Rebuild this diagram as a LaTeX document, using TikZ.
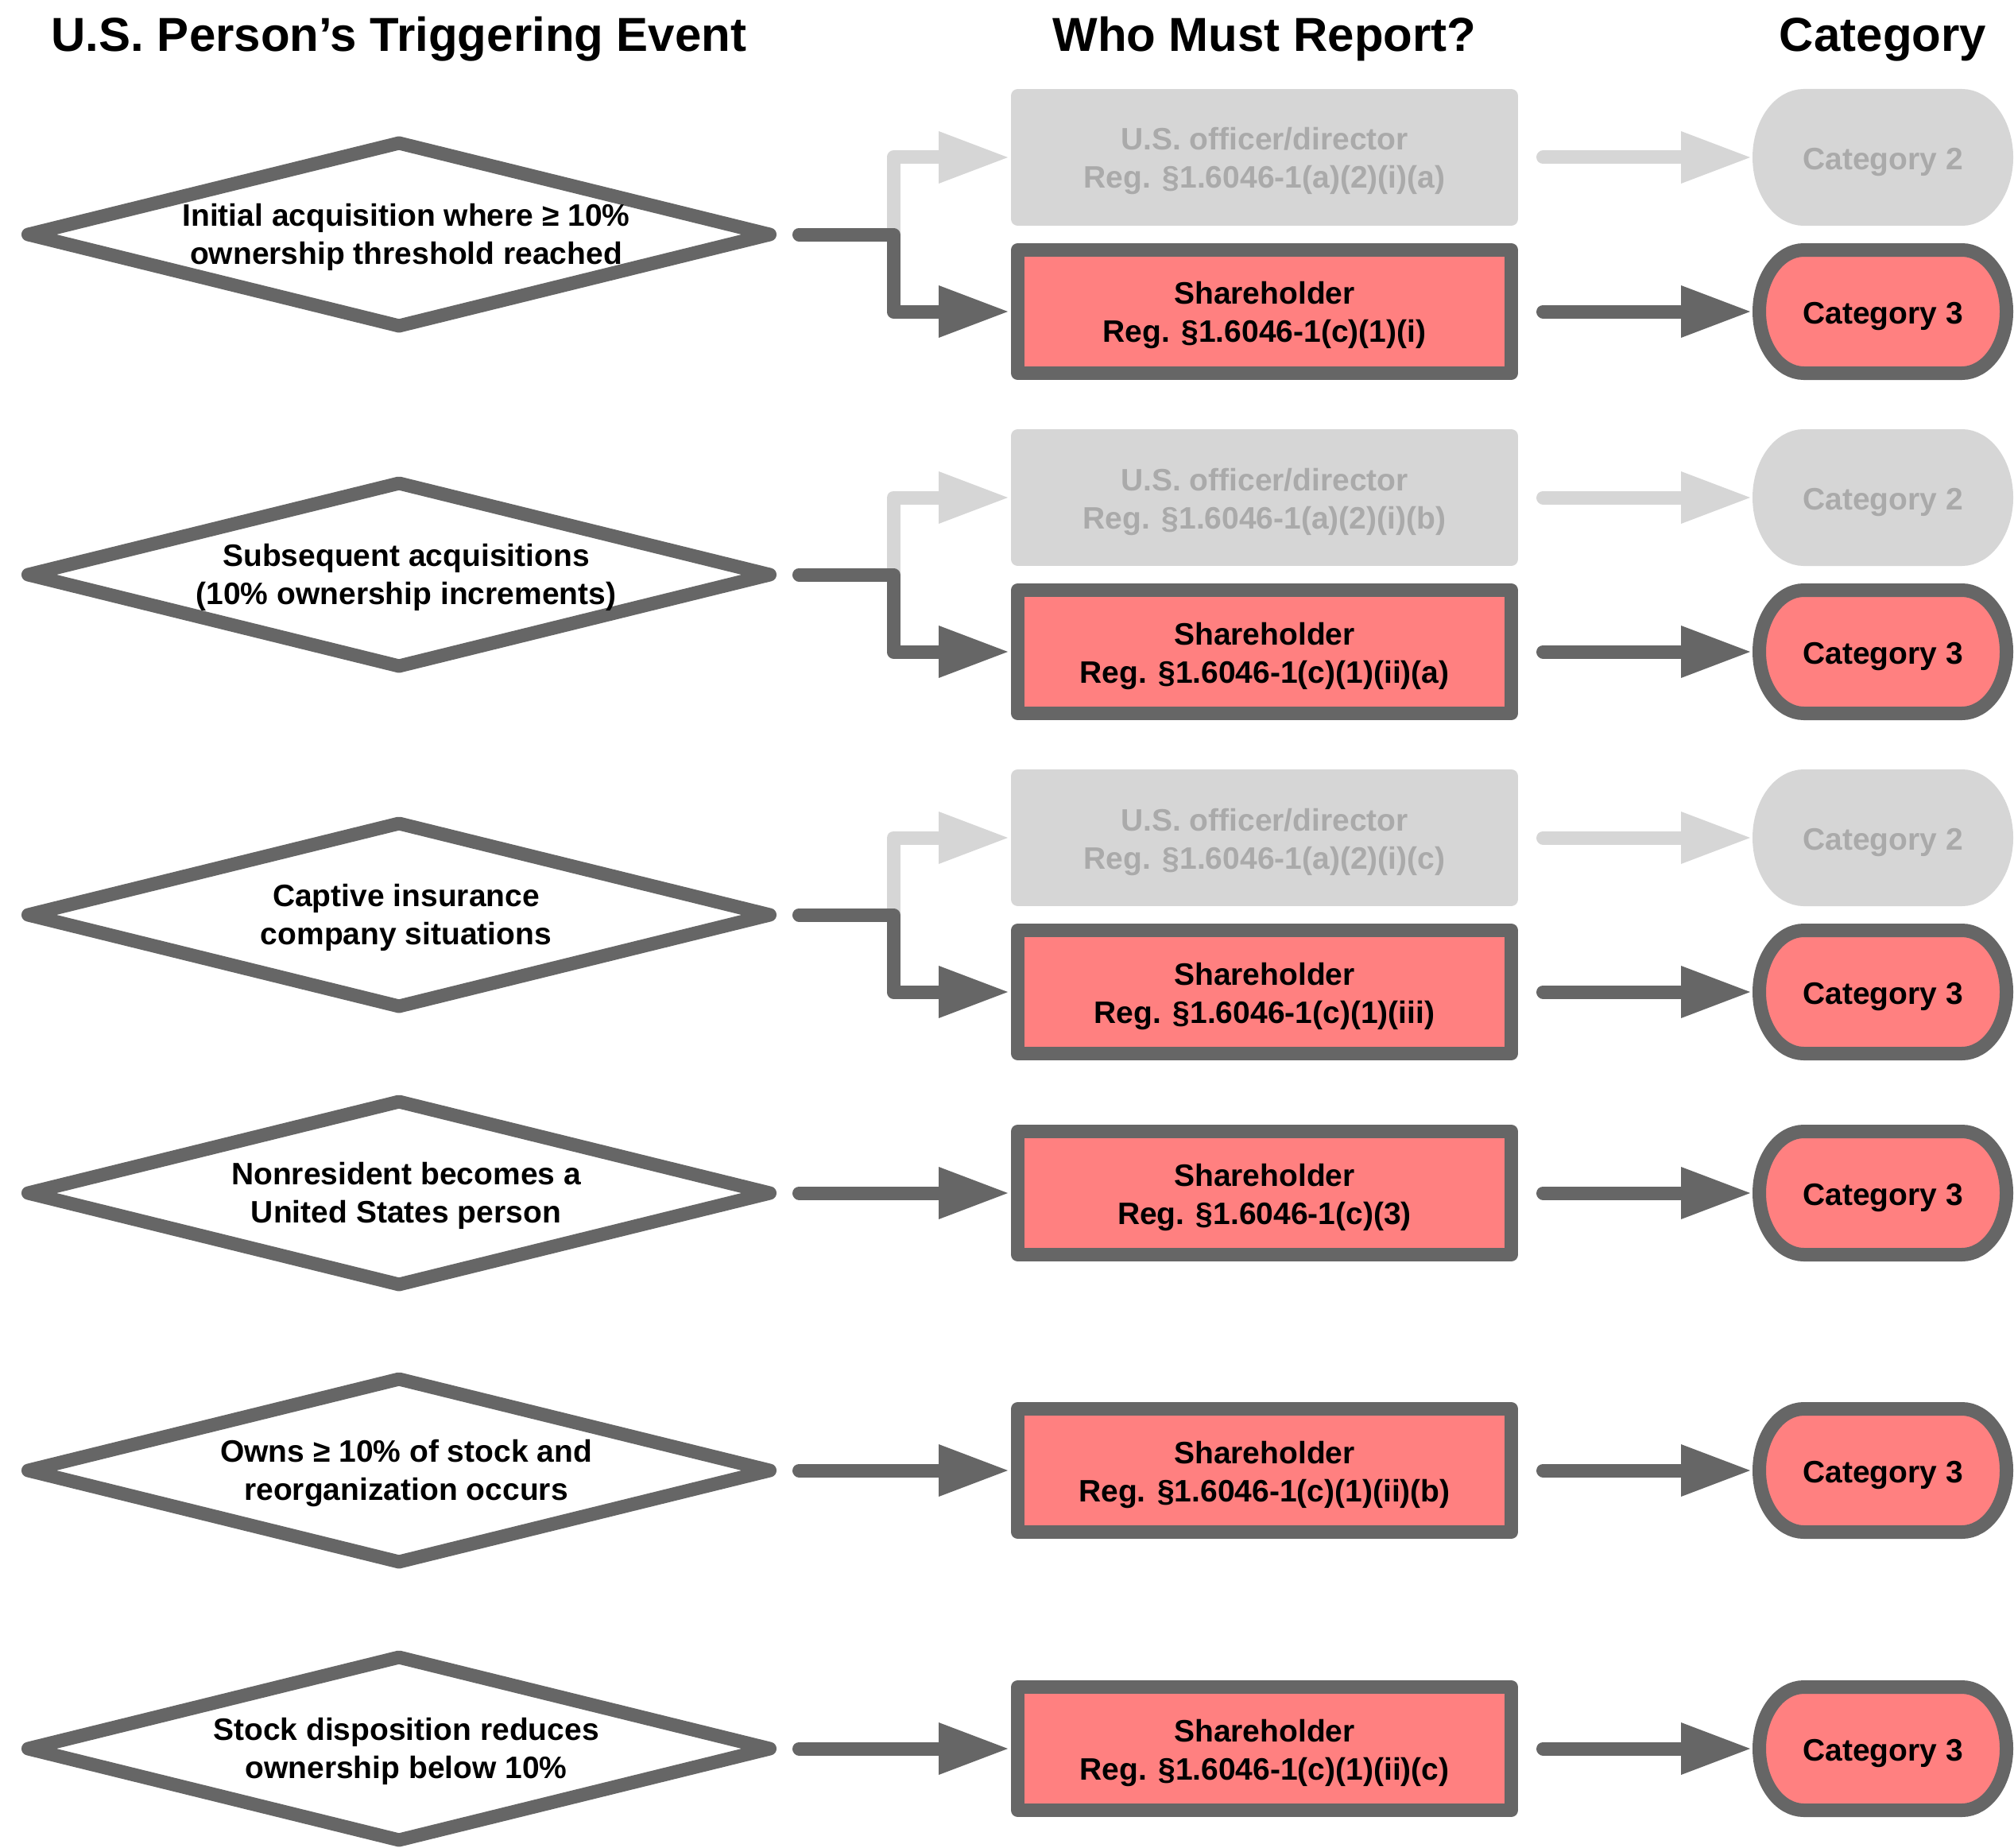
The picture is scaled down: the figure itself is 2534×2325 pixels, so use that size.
\documentclass[tikz,border=0pt]{standalone}
\usepackage{fontspec}
\setmainfont{Liberation Sans}
\usetikzlibrary{arrows.meta,shapes.geometric,calc}

\definecolor{edgegray}{HTML}{666666}
\definecolor{fadegray}{HTML}{D6D6D6}
\definecolor{fadetext}{HTML}{AAAAAA}
\definecolor{hitred}{HTML}{FF8080}

\pgfdeclarelayer{background}
\pgfsetlayers{background,main}

% pill outline with elliptical ends, drawn behind a category node
\newcommand{\catoutline}[2]{%
  \begin{pgfonlayer}{background}
    \path[#2] ([xshift=56pt]#1.north west) -- ([xshift=-56pt]#1.north east)
      arc[start angle=90,end angle=-90,x radius=56pt,y radius=77.5pt]
      -- ([xshift=56pt]#1.south west)
      arc[start angle=270,end angle=90,x radius=56pt,y radius=77.5pt] -- cycle;
  \end{pgfonlayer}}

\begin{document}
\begin{tikzpicture}[x=1pt,y=1pt,
  every node/.style={outer sep=0pt, inner sep=0pt},
  txt/.style={font=\bfseries\fontsize{39}{48}\selectfont, align=center},
  head/.style={font=\bfseries\fontsize{60}{72}\selectfont, anchor=base},
  % box and category captions sit a little below the geometric centre
  say/.style={label={[txt,yshift=-5pt]center:{#1}}},
  fadesay/.style={label={[txt,text=fadetext,yshift=-5pt]center:{#1}}},
  catsay/.style={label={[txt,yshift=-6pt]center:{#1}}},
  catfadesay/.style={label={[txt,text=fadetext,yshift=-6pt]center:{#1}}},
  event/.style={diamond, draw=edgegray, fill=white, line width=17pt, line join=round,
    minimum width=933pt, minimum height=230pt},
  rolebox/.style={rectangle, line width=17pt, line join=round,
    minimum width=621pt, minimum height=155pt},
  holder/.style={rolebox, draw=edgegray, fill=hitred, say={#1}},
  officer/.style={rolebox, draw=fadegray, fill=fadegray, fadesay={#1}},
  cat/.style={minimum width=311pt, minimum height=155pt, catsay={#1}},
  catoff/.style={minimum width=311pt, minimum height=155pt, catfadesay={#1}},
  catdark/.style={draw=edgegray, fill=hitred, line width=17pt},
  catfade/.style={draw=fadegray, fill=fadegray, line width=17pt},
  link/.style={line width=17pt, line cap=round, line join=round,
    -{Triangle[length=87pt,width=66pt,line width=0pt]}, shorten >=12.5pt},
  strong/.style={link, color=edgegray},
  faint/.style={link, color=fadegray},
]
\useasboundingbox (0,0) rectangle (2534,-2325);

% column headings
\node[head] (h1) at (502,-65) {U.S. Person’s Triggering Event};
\node[head] (h2) at (1591,-65) {Who Must Report?};
\node[head] (h3) at (2369,-65) {Category};

% triggering events
\node[event] (d1) at (502,-295) {};
\node[event] (d2) at (502,-723) {};
\node[event] (d3) at (502,-1151) {};
\node[event] (d4) at (502,-1501) {};
\node[event] (d5) at (502,-1850) {};
\node[event] (d6) at (502,-2200) {};
\node[txt] (t1) at ([xshift=9pt,yshift=-3pt]d1.center) {Initial acquisition where ≥ 10\%\\ownership threshold reached};
\node[txt] (t2) at ([xshift=9pt,yshift=-3pt]d2.center) {Subsequent acquisitions\\(10\% ownership increments)};
\node[txt] (t3) at ([xshift=9pt,yshift=-3pt]d3.center) {Captive insurance\\company situations};
\node[txt] (t4) at ([xshift=9pt,yshift=-3pt]d4.center) {Nonresident becomes a\\United States person};
\node[txt] (t5) at ([xshift=9pt,yshift=-3pt]d5.center) {Owns ≥ 10\% of stock and\\reorganization occurs};
\node[txt] (t6) at ([xshift=9pt,yshift=-3pt]d6.center) {Stock disposition reduces\\ownership below 10\%};

% who must report
\node[officer={U.S. officer/director\\Reg. §1.6046-1(a)(2)(i)(a)}] (g1) at (1591,-198) {};
\node[holder={Shareholder\\Reg. §1.6046-1(c)(1)(i)}] (s1) at (1591,-392) {};
\node[officer={U.S. officer/director\\Reg. §1.6046-1(a)(2)(i)(b)}] (g2) at (1591,-626) {};
\node[holder={Shareholder\\Reg. §1.6046-1(c)(1)(ii)(a)}] (s2) at (1591,-820) {};
\node[officer={U.S. officer/director\\Reg. §1.6046-1(a)(2)(i)(c)}] (g3) at (1591,-1054) {};
\node[holder={Shareholder\\Reg. §1.6046-1(c)(1)(iii)}] (s3) at (1591,-1248) {};
\node[holder={Shareholder\\Reg. §1.6046-1(c)(3)}] (s4) at (1591,-1501) {};
\node[holder={Shareholder\\Reg. §1.6046-1(c)(1)(ii)(b)}] (s5) at (1591,-1850) {};
\node[holder={Shareholder\\Reg. §1.6046-1(c)(1)(ii)(c)}] (s6) at (1591,-2200) {};

% categories
\node[catoff={Category 2}] (c1) at (2369,-198) {};
\node[cat={Category 3}] (k1) at (2369,-392) {};
\node[catoff={Category 2}] (c2) at (2369,-626) {};
\node[cat={Category 3}] (k2) at (2369,-820) {};
\node[catoff={Category 2}] (c3) at (2369,-1054) {};
\node[cat={Category 3}] (k3) at (2369,-1248) {};
\node[cat={Category 3}] (k4) at (2369,-1501) {};
\node[cat={Category 3}] (k5) at (2369,-1850) {};
\node[cat={Category 3}] (k6) at (2369,-2200) {};
\catoutline{c1}{catfade}
\catoutline{c2}{catfade}
\catoutline{c3}{catfade}
\catoutline{k1}{catdark}
\catoutline{k2}{catdark}
\catoutline{k3}{catdark}
\catoutline{k4}{catdark}
\catoutline{k5}{catdark}
\catoutline{k6}{catdark}

% event -> reporter (faded branch first, so the active branch lies on top)
\foreach \i in {1,2,3} {
  \draw[faint] ([xshift=37pt]d\i.east) -- ++(118.5,0) |- (g\i.west);
  \draw[strong] ([xshift=37pt]d\i.east) -- ++(118.5,0) |- (s\i.west);
}
\foreach \i in {4,5,6} {
  \draw[strong] ([xshift=37pt]d\i.east) -- (s\i.west);
}

% reporter -> category
\foreach \i in {1,2,3} {
  \draw[faint, shorten >=11.5pt] ([xshift=40pt]g\i.east) -- (c\i.west);
}
\foreach \i in {1,...,6} {
  \draw[strong, shorten >=11.5pt] ([xshift=40pt]s\i.east) -- (k\i.west);
}
\end{tikzpicture}
\end{document}
